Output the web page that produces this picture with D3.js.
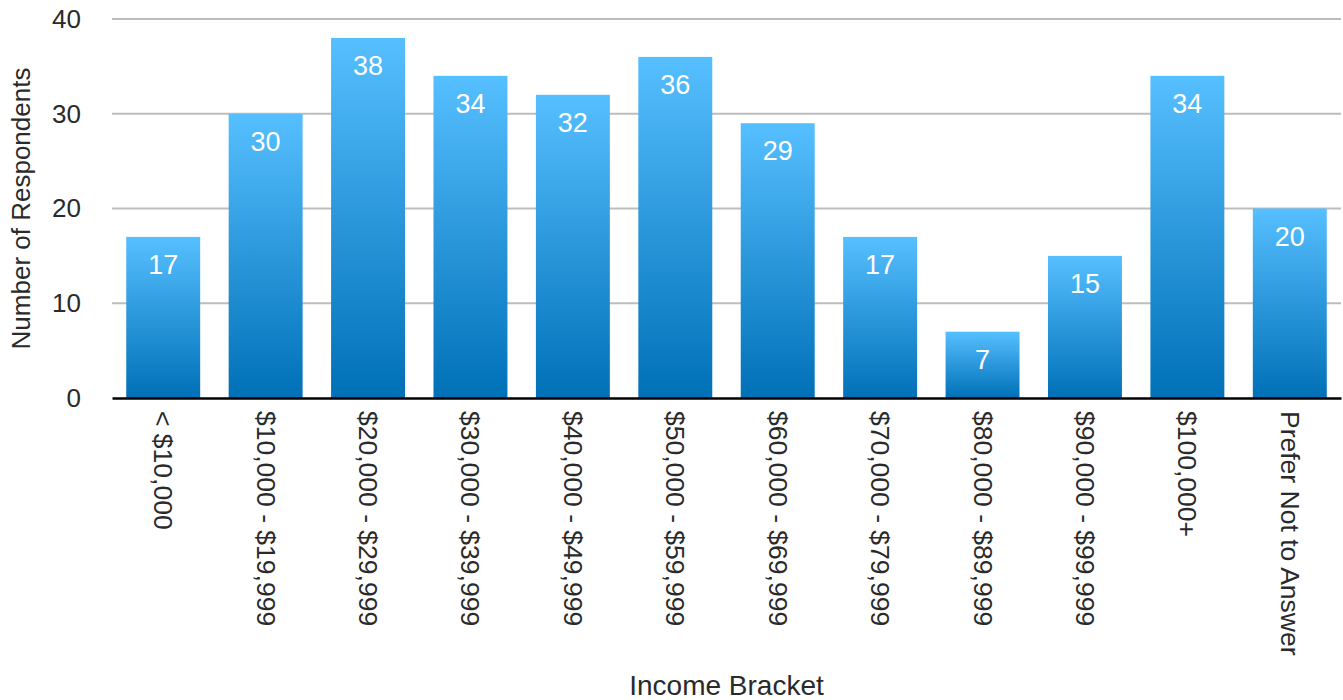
<!DOCTYPE html>
<html>
<head>
<meta charset="utf-8">
<script src="https://cdn.jsdelivr.net/npm/d3@7"></script>
<style>
  html, body { margin: 0; padding: 0; background: #fff; }
  svg text { font-family: "Liberation Sans", Arial, Helvetica, sans-serif; }
</style>
</head>
<body>
<svg id="chart" width="1343" height="700"></svg>
<script>
// Income brackets and respondent counts
const categories = [
  "< $10,000", "$10,000 - $19,999", "$20,000 - $29,999", "$30,000 - $39,999",
  "$40,000 - $49,999", "$50,000 - $59,999", "$60,000 - $69,999", "$70,000 - $79,999",
  "$80,000 - $89,999", "$90,000 - $99,999", "$100,000+", "Prefer Not to Answer"
];
const respondents = [17, 30, 38, 34, 32, 36, 29, 17, 7, 15, 34, 20];
const yTicks = [0, 10, 20, 30, 40];

const svg = d3.select("#chart");
const margin = { left: 112, right: 2, top: 19, bottom: 302 };
const W = 1343, H = 700;

const x = d3.scaleBand()
  .domain(categories)
  .range([margin.left, W - margin.right])
  .paddingInner(0.278)
  .paddingOuter(0.139);

const y = d3.scaleLinear()
  .domain([0, 40])
  .range([H - margin.bottom, margin.top]);

// Vertical gradient for each bar: light blue at top, deep blue at base
const defs = svg.append("defs");
const grad = defs.append("linearGradient")
  .attr("id", "barGrad")
  .attr("x1", 0).attr("y1", 0).attr("x2", 0).attr("y2", 1);
grad.append("stop").attr("offset", "0%").attr("stop-color", "#56bfff");
grad.append("stop").attr("offset", "100%").attr("stop-color", "#0070b7");

// Horizontal gridlines
svg.append("g")
  .selectAll("line")
  .data(yTicks.filter(d => d > 0))
  .join("line")
  .attr("x1", margin.left)
  .attr("x2", W - margin.right)
  .attr("y1", d => y(d))
  .attr("y2", d => y(d))
  .attr("stroke", "#bdbdbd")
  .attr("stroke-width", 2.2);

// Y axis tick labels
const yAxis = d3.axisLeft(y).tickValues(yTicks).tickSize(0).tickPadding(31);
const gy = svg.append("g")
  .attr("transform", `translate(${margin.left},0)`)
  .call(yAxis);
gy.select(".domain").remove();
gy.selectAll("text")
  .attr("font-size", 26)
  .attr("fill", "#2a2a2a")
  .style("font-family", "'Liberation Sans', Arial, sans-serif");

// Bars
svg.append("g")
  .selectAll("rect")
  .data(respondents)
  .join("rect")
  .attr("x", (d, i) => x(categories[i]))
  .attr("width", x.bandwidth())
  .attr("y", d => y(d))
  .attr("height", d => y(0) - y(d))
  .attr("fill", "url(#barGrad)");

// Value labels inside the top of each bar
svg.append("g")
  .selectAll("text")
  .data(respondents)
  .join("text")
  .attr("x", (d, i) => x(categories[i]) + x.bandwidth() / 2)
  .attr("y", d => y(d) + 37)
  .attr("text-anchor", "middle")
  .attr("font-size", 27)
  .attr("fill", "#fff")
  .text(d => d);

// Baseline axis
const xAxis = d3.axisBottom(x).tickSize(0).tickPadding(0);
const gx = svg.append("g")
  .attr("transform", `translate(0,${y(0)})`)
  .call(xAxis);
gx.select(".domain")
  .attr("stroke", "#000")
  .attr("stroke-width", 2.5);
gx.selectAll(".tick text")
  .attr("font-size", 26.5)
  .attr("fill", "#2a2a2a")
  .attr("text-anchor", "start")
  .attr("dominant-baseline", "central")
  .attr("dy", null)
  .attr("y", 0)
  .attr("transform", "translate(0,13) rotate(90)")
  .style("font-family", "'Liberation Sans', Arial, sans-serif");

// Axis titles
svg.append("text")
  .attr("x", (margin.left + W - margin.right) / 2)
  .attr("y", 695)
  .attr("text-anchor", "middle")
  .attr("font-size", 28)
  .attr("fill", "#2a2a2a")
  .text("Income Bracket");

svg.append("text")
  .attr("transform", `translate(30,${(y(0) + y(40)) / 2}) rotate(-90)`)
  .attr("text-anchor", "middle")
  .attr("font-size", 26)
  .attr("fill", "#2a2a2a")
  .text("Number of Respondents");
</script>
</body>
</html>
